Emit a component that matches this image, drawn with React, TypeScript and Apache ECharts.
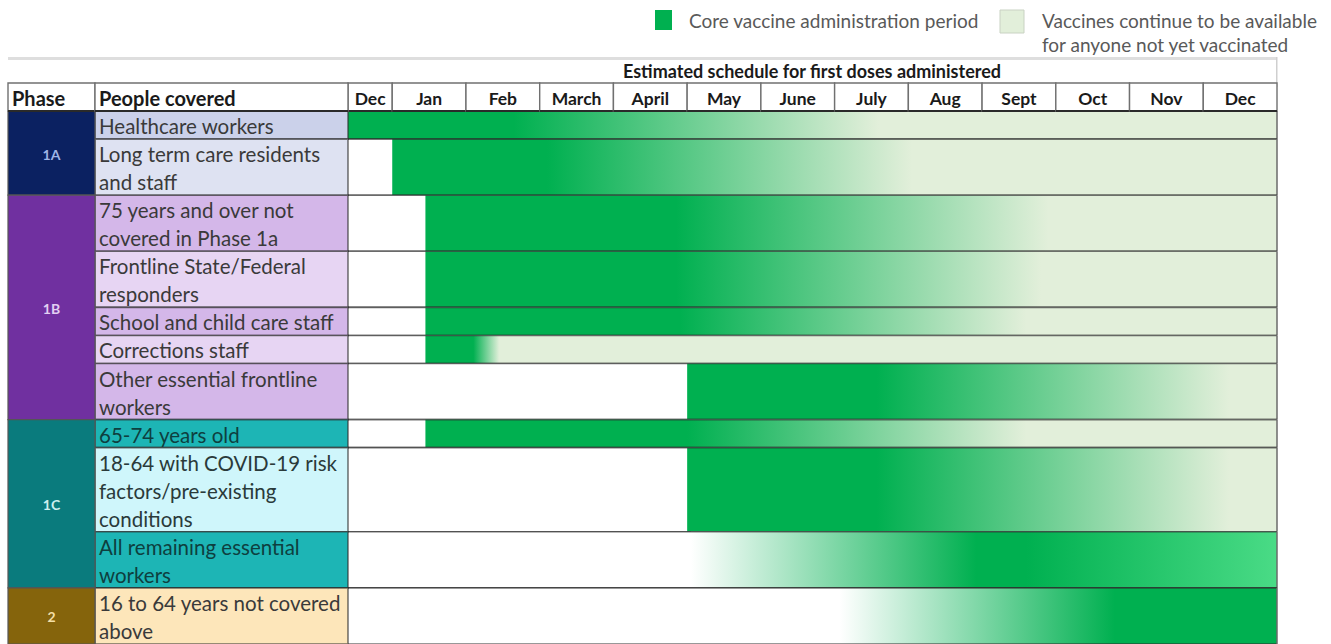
import React, { useEffect, useRef } from 'react';
import * as echarts from 'echarts';

// ---------- data ----------
const phases = ['1A', '1B', '1C', '2'];
const phaseRowCount = [2, 5, 3, 1];
const peopleLabels = [
  'Healthcare workers',
  'Long term care residents\nand staff',
  '75 years and over not\ncovered in Phase 1a',
  'Frontline State/Federal\nresponders',
  'School and child care staff',
  'Corrections staff',
  'Other essential frontline\nworkers',
  '65-74 years old',
  '18-64 with COVID-19 risk\nfactors/pre-existing\nconditions',
  'All remaining essential\nworkers',
  '16 to 64 years not covered\nabove',
];
const rowLines = [1, 2, 2, 2, 1, 1, 2, 1, 3, 2, 2];
const monthLabels = ['Dec', 'Jan', 'Feb', 'March', 'April', 'May', 'June', 'July', 'Aug', 'Sept', 'Oct', 'Nov', 'Dec'];
const monthStart = [0.4, 1, 2, 3, 4, 5, 6, 7, 8, 9, 10, 11, 12];
const scheduleEnd = 13;
// schedule stops per row: [month position, level]; 1 = core period, 0 = still available, -1 = not started
const barStops: number[][][] = [
  [[0.4, 1], [2.65, 1], [7.6, 0], [13, 0]],
  [[1.0, 1], [3.1, 1], [8.05, 0], [13, 0]],
  [[1.45, 1], [4.85, 1], [9.9, 0], [13, 0]],
  [[1.45, 1], [4.85, 1], [9.8, 0], [13, 0]],
  [[1.45, 1], [4.9, 1], [9.6, 0], [13, 0]],
  [[1.45, 1], [2.1, 1], [2.45, 0], [13, 0]],
  [[5.0, 1], [7.57, 1], [12.35, 0], [13, 0]],
  [[1.45, 1], [5.0, 1], [9.6, 0], [13, 0]],
  [[5.0, 1], [7.57, 1], [12.35, 0], [13, 0]],
  [[5.05, -1], [8.92, 1], [9.6, 1], [13, 0.8]],
  [[7.07, -1], [10.8, 1], [13, 1]],
];
const tableTitle = 'Estimated schedule for first doses administered';
const legendCore = 'Core vaccine administration period';
const legendAvail = 'Vaccines continue to be available\nfor anyone not yet vaccinated';
const headerPhase = 'Phase';
const headerPeople = 'People covered';

// ---------- styles ----------
const FONT = 'Lato, "Open Sans", sans-serif';
const CORE = '#00B050';
const AVAIL = '#E2EFDA';
const BRIGHT = '#4ADB86';
const phaseFills = ['#0B2161', '#7030A0', '#0A7B7D', '#85640C'];
const phaseTextColors = ['#9FB4E6', '#E2CFF2', '#CDEFEF', '#F3DFA8'];
const peopleFills = ['#CBD1EA', '#DEE2F2', '#D4B7E9', '#E7D5F3', '#D4B7E9', '#E7D5F3', '#D4B7E9', '#1DB5B5', '#CFF6FB', '#1DB5B5', '#FDE6BA'];
const peopleTextColors = ['#3a3a3a', '#3a3a3a', '#3a3a3a', '#3a3a3a', '#3a3a3a', '#3a3a3a', '#3a3a3a', '#0E3F3F', '#2a3a3a', '#0E3F3F', '#3a3a3a'];
const PHASE_COL = 87 / 340;
const LINE = 'rgba(45,45,45,0.65)';

function hex(c: string) {
  return [1, 3, 5].map((k) => parseInt(c.slice(k, k + 2), 16));
}
function mix(c1: string, c2: string, t: number) {
  const a = hex(c1), b = hex(c2);
  const m = a.map((v, k) => Math.round(v + (b[k] - v) * t));
  return `rgb(${m[0]},${m[1]},${m[2]})`;
}
// level 1 = core green, 0 = pale "available" green; a stop that stays above 0 at the end of a ramp-up row is a lighter core green
function levelColor(l: number, rampUp: boolean) {
  if (l < 0) return '#FFFFFF';
  if (rampUp && l < 1) return mix(BRIGHT, CORE, (l - 0.8) / 0.2);
  return mix(AVAIL, CORE, l);
}

const rowTop: number[] = [];
rowLines.reduce((acc, n, i) => { rowTop[i] = acc; return acc + n; }, 0);
const totalLines = rowLines.reduce((a, b) => a + b, 0);

export default function App() {
  const ref = useRef<HTMLDivElement>(null);
  useEffect(() => {
    const chart = echarts.init(ref.current!, undefined, { renderer: 'svg' });

    const barData = barStops.map((st, i) => [st[0][0], st[st.length - 1][0], rowTop[i], rowTop[i] + rowLines[i], i]);
    const headerData = monthLabels.map((m, i) => [monthStart[i], i + 1 < monthStart.length ? monthStart[i + 1] : scheduleEnd, i]);
    const peopleData = peopleLabels.map((_, i) => [rowTop[i], rowTop[i] + rowLines[i], i]);
    let r = 0;
    const phaseData = phases.map((_, k) => {
      const top = rowTop[r];
      r += phaseRowCount[k];
      const bottom = r < rowTop.length ? rowTop[r] : totalLines;
      return [top, bottom, k];
    });

    const option: any = {
      animation: false,
      grid: [
        { left: 348, width: 929, top: 83, height: 20 * 28.2 },
        { left: 8, width: 340, top: 83, height: 20 * 28.2 },
      ],
      xAxis: [
        { type: 'value', gridIndex: 0, min: monthStart[0], max: scheduleEnd, show: false },
        { type: 'value', gridIndex: 1, min: 0, max: 1, show: false },
      ],
      yAxis: [
        { type: 'value', gridIndex: 0, min: -1, max: totalLines, inverse: true, show: false },
        { type: 'value', gridIndex: 1, min: -1, max: totalLines, inverse: true, show: false },
      ],
      graphic: [
        { type: 'rect', shape: { x: 8, y: 57, width: 1269, height: 3 }, style: { fill: '#DEDEDE' } },
        { type: 'rect', shape: { x: 1276, y: 57, width: 1.5, height: 30 }, style: { fill: '#CFCFCF' } },
        { type: 'text', style: { text: tableTitle, x: 812, y: 71, align: 'center', verticalAlign: 'middle', font: `bold 18px ${FONT}`, fill: '#1a1a1a' } },
        { type: 'rect', shape: { x: 655, y: 10, width: 17, height: 20 }, style: { fill: CORE } },
        { type: 'text', style: { text: legendCore, x: 689, y: 20, verticalAlign: 'middle', font: `19px ${FONT}`, fill: '#595959' } },
        { type: 'rect', shape: { x: 1000, y: 10, width: 24, height: 23 }, style: { fill: AVAIL, stroke: '#C9D2C3', lineWidth: 1 } },
        { type: 'text', style: { text: legendAvail, x: 1042, y: 8, verticalAlign: 'top', lineHeight: 24, font: `19px ${FONT}`, fill: '#595959' } },
      ],
      series: [
        {
          type: 'custom', xAxisIndex: 0, yAxisIndex: 0, data: barData,
          renderItem: (params: any, api: any) => {
            const i = api.value(4);
            const s = api.value(0), e = api.value(1);
            const p0 = api.coord([s, api.value(2)]);
            const p1 = api.coord([e, api.value(3)]);
            const b0 = api.coord([monthStart[0], api.value(2)]);
            const b1 = api.coord([scheduleEnd, api.value(3)]);
            const rampUp = barStops[i][0][1] < 0;
            const stops = barStops[i].map(([m, l]) => ({ offset: (m - s) / (e - s), color: levelColor(l, rampUp) }));
            return {
              type: 'group',
              children: [
                { type: 'rect', shape: { x: b0[0], y: b0[1], width: b1[0] - b0[0], height: b1[1] - b0[1] }, style: { fill: '#ffffff' } },
                { type: 'rect', shape: { x: p0[0], y: p0[1], width: p1[0] - p0[0], height: p1[1] - p0[1] }, style: { fill: new echarts.graphic.LinearGradient(0, 0, 1, 0, stops) } },
                { type: 'line', shape: { x1: b0[0], y1: b0[1], x2: b1[0], y2: b0[1] }, style: { stroke: LINE, lineWidth: 1.6 } },
                { type: 'line', shape: { x1: b0[0], y1: b1[1], x2: b1[0], y2: b1[1] }, style: { stroke: LINE, lineWidth: 1.6 } },
                { type: 'line', shape: { x1: b1[0], y1: b0[1], x2: b1[0], y2: b1[1] }, style: { stroke: '#6a6a6a', lineWidth: 1.5 } },
              ],
            };
          },
        },
        {
          type: 'custom', xAxisIndex: 0, yAxisIndex: 0, data: headerData,
          renderItem: (params: any, api: any) => {
            const i = api.value(2);
            const p0 = api.coord([api.value(0), -1]);
            const p1 = api.coord([api.value(1), 0]);
            return {
              type: 'group',
              children: [
                { type: 'rect', shape: { x: p0[0], y: p0[1], width: p1[0] - p0[0], height: p1[1] - p0[1] }, style: { fill: '#fff', stroke: '#707070', lineWidth: 1.4 } },
                { type: 'line', shape: { x1: p0[0], y1: p1[1], x2: p1[0], y2: p1[1] }, style: { stroke: '#2a2a2a', lineWidth: 2 } },
                { type: 'text', style: { text: monthLabels[i], x: (p0[0] + p1[0]) / 2, y: (p0[1] + p1[1]) / 2 + 1, align: 'center', verticalAlign: 'middle', font: `bold 17.5px ${FONT}`, fill: '#1a1a1a' } },
              ],
            };
          },
        },
        {
          type: 'custom', xAxisIndex: 1, yAxisIndex: 1, data: peopleData,
          renderItem: (params: any, api: any) => {
            const i = api.value(2);
            const p0 = api.coord([PHASE_COL, api.value(0)]);
            const p1 = api.coord([1, api.value(1)]);
            const lh = api.size([0, 1])[1];
            return {
              type: 'group',
              children: [
                { type: 'rect', shape: { x: p0[0], y: p0[1], width: p1[0] - p0[0], height: p1[1] - p0[1] }, style: { fill: peopleFills[i], stroke: LINE, lineWidth: 1.6 } },
                { type: 'text', style: { text: peopleLabels[i], x: p0[0] + 4, y: p0[1] + 1, verticalAlign: 'top', lineHeight: lh, font: `20.5px ${FONT}`, fill: peopleTextColors[i] } },
              ],
            };
          },
        },
        {
          type: 'custom', xAxisIndex: 1, yAxisIndex: 1, data: phaseData,
          renderItem: (params: any, api: any) => {
            const k = api.value(2);
            const p0 = api.coord([0, api.value(0)]);
            const p1 = api.coord([PHASE_COL, api.value(1)]);
            return {
              type: 'group',
              children: [
                { type: 'rect', shape: { x: p0[0], y: p0[1], width: p1[0] - p0[0], height: p1[1] - p0[1] }, style: { fill: phaseFills[k], stroke: '#555', lineWidth: 1.2 } },
                { type: 'text', style: { text: phases[k], x: (p0[0] + p1[0]) / 2, y: (p0[1] + p1[1]) / 2 + 1, align: 'center', verticalAlign: 'middle', font: `bold 14px ${FONT}`, fill: phaseTextColors[k] } },
              ],
            };
          },
        },
        {
          type: 'custom', xAxisIndex: 1, yAxisIndex: 1, data: [[0, PHASE_COL, 0], [PHASE_COL, 1, 1]],
          renderItem: (params: any, api: any) => {
            const j = api.value(2);
            const p0 = api.coord([api.value(0), -1]);
            const p1 = api.coord([api.value(1), 0]);
            return {
              type: 'group',
              children: [
                { type: 'rect', shape: { x: p0[0], y: p0[1], width: p1[0] - p0[0], height: p1[1] - p0[1] }, style: { fill: '#fff', stroke: '#707070', lineWidth: 1.4 } },
                { type: 'line', shape: { x1: p0[0], y1: p1[1], x2: p1[0], y2: p1[1] }, style: { stroke: '#2a2a2a', lineWidth: 2 } },
                { type: 'text', style: { text: j === 0 ? headerPhase : headerPeople, x: p0[0] + 4, y: (p0[1] + p1[1]) / 2 + 1, verticalAlign: 'middle', font: `bold 20px ${FONT}`, fill: '#1a1a1a' } },
              ],
            };
          },
        },
      ],
    };
    chart.setOption(option);
    return () => chart.dispose();
  }, []);
  return <div ref={ref} style={{ position: 'fixed', left: 0, top: 0, width: 1331, height: 644, background: '#fff' }} />;
}
